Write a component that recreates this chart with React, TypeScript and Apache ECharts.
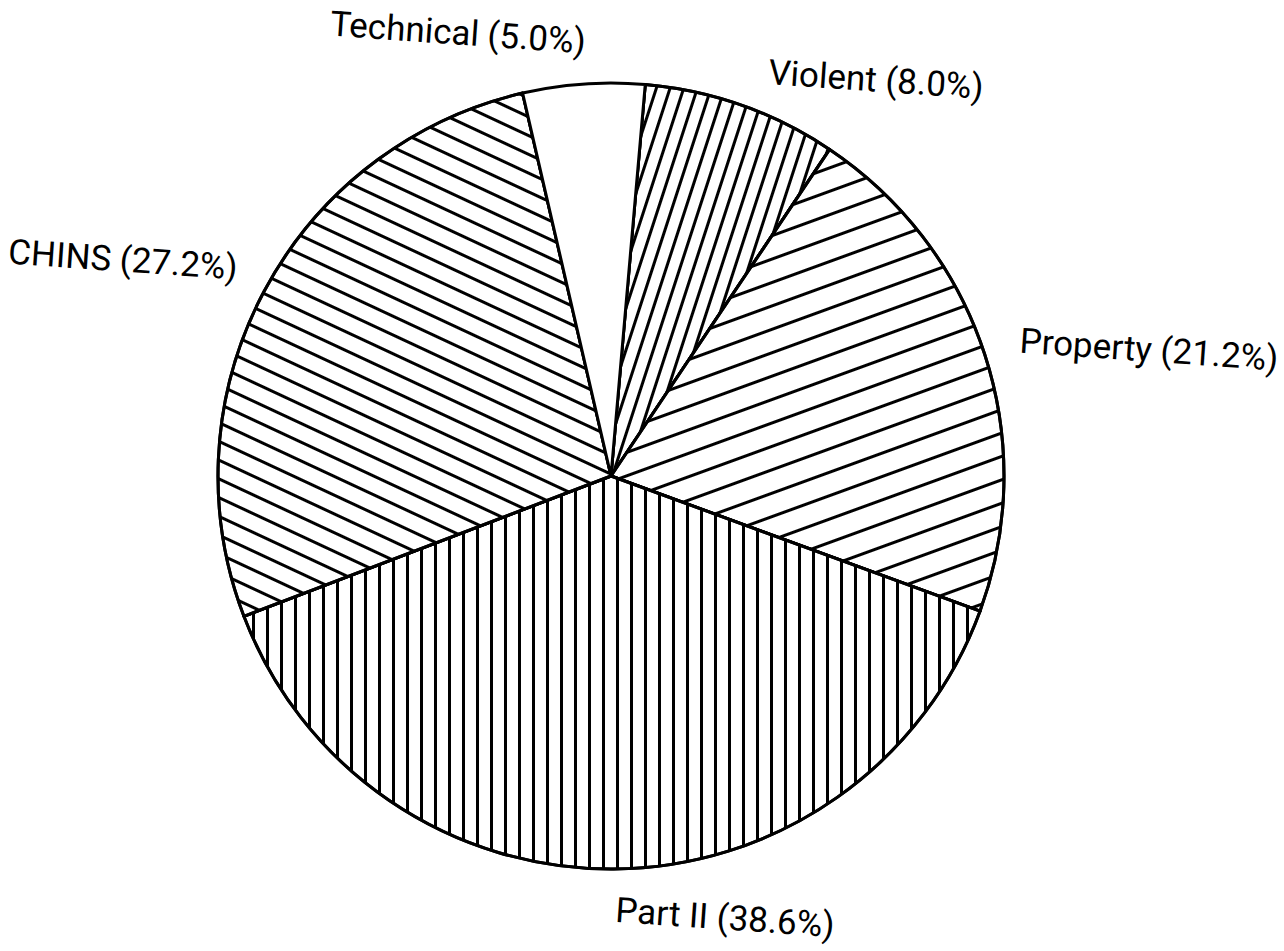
import React, { useEffect, useRef } from "react";
import * as echarts from "echarts";

const categories = ["Violent", "Property", "Part II", "CHINS", "Technical"];
const shares = [8.0, 21.2, 38.6, 27.2, 5.0];

// hatch angle (degrees from horizontal, positive = rising to the right) and period
const hatchAngle = [72, 20, 90, -25, null];
const hatchGap = [10, 19, 11, 14, 0];

// label centres (px)
const labelPos: [number, number][] = [
  [876, 80],
  [1149, 350],
  [725, 918],
  [123, 260],
  [458, 33],
];

export default function App() {
  const ref = useRef<HTMLDivElement>(null);
  useEffect(() => {
    document.body.style.margin = "0";
    const chart = echarts.init(ref.current!, null, { renderer: "svg" });
    const data = categories.map((name, i) => {
      const a = hatchAngle[i];
      const item: any = { name, value: shares[i] };
      if (a !== null) {
        item.itemStyle = {
          decal: {
            symbol: "rect",
            symbolSize: 1,
            dashArrayX: [1, 0],
            dashArrayY: [2.4, hatchGap[i]],
            rotation: (-a * Math.PI) / 180,
            color: "#000",
          },
        };
      }
      return item;
    });
    chart.setOption({
      animation: false,
      backgroundColor: "#fff",
      series: [
        {
          type: "pie",
          center: [611, 476],
          radius: 393,
          startAngle: 85,
          clockwise: true,
          avoidLabelOverlap: false,
          itemStyle: { color: "#fff", borderColor: "#000", borderWidth: 3 },
          emphasis: { disabled: true },
          labelLine: { show: false },
          label: {
            show: true,
            position: "outside",
            color: "#000",
            fontFamily: "Roboto",
            fontSize: 35,
            rotate: -4,
            formatter: (p: any) => `${p.name} (${p.value.toFixed(1)}%)`,
          },
          labelLayout: (params: any) => {
            const pos = labelPos[params.dataIndex];
            return { x: pos[0], y: pos[1], align: "center", verticalAlign: "middle", rotate: -4 };
          },
          data,
        },
      ],
    });
    return () => chart.dispose();
  }, []);
  return <div ref={ref} style={{ width: 1284, height: 951 }} />;
}
